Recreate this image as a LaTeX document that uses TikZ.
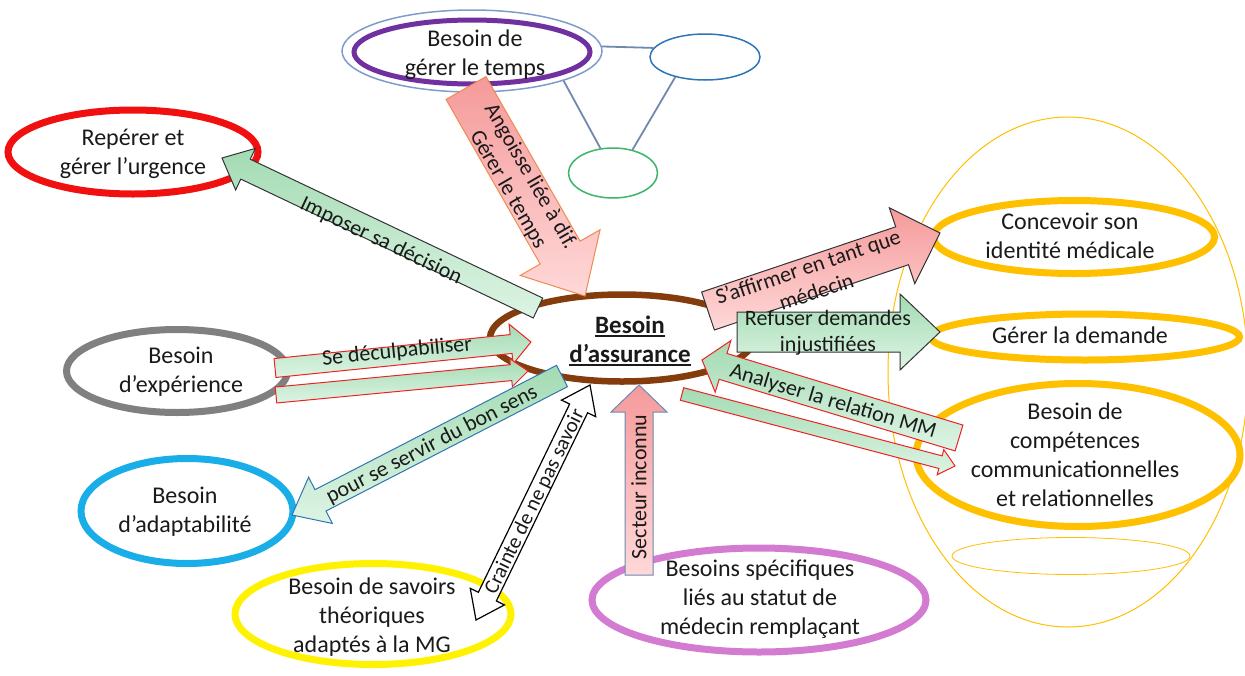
\documentclass[tikz,border=0pt]{standalone}
\usepackage{fontspec}
\setmainfont{Carlito}
\usetikzlibrary{calc,shapes.geometric}

\definecolor{brownring}{HTML}{843C0C}
\definecolor{purplering}{HTML}{7030A0}
\definecolor{steelring}{HTML}{7F9CCB}
\definecolor{bluering}{HTML}{2E75B6}
\definecolor{greenring}{HTML}{3DB56B}
\definecolor{linkgray}{HTML}{7189AE}
\definecolor{redring}{HTML}{F01010}
\definecolor{grayring}{HTML}{808080}
\definecolor{cyanring}{HTML}{1AAEE8}
\definecolor{yellowring}{HTML}{FFF200}
\definecolor{orchidring}{HTML}{D27BD0}
\definecolor{amberring}{HTML}{FFC000}
\definecolor{greentop}{HTML}{A3DBB3}
\definecolor{greenbot}{HTML}{DDF4E4}
\definecolor{pinktop}{HTML}{F59A9A}
\definecolor{pinkbot}{HTML}{FFD8D8}
\definecolor{orangeedge}{HTML}{F08A50}
\definecolor{darkedge}{HTML}{333333}
\definecolor{blueedge}{HTML}{2E75B6}
\definecolor{rededge}{HTML}{EE2222}
\definecolor{slateedge}{HTML}{6A88B8}
\definecolor{txt}{HTML}{1A1A1A}

\newcommand\bigtxt{\fontsize{24}{29}\selectfont}
\newcommand\arrtxt{\fontsize{22}{26}\selectfont}
% thick underline for the central title
\newcommand\assurul[1]{\setbox0\hbox{#1}\rlap{\rule[-3.5pt]{\wd0}{1.6pt}}\box0}

% block arrow: options, tail, tip, half shaft, half head, head length
\newcommand\blockarrow[6]{%
  \draw[#1] let \p1=(#2), \p2=(#3),
    \n1={atan2(\y2-\y1,\x2-\x1)},
    \n2={veclen(\x2-\x1,\y2-\y1)-#6} in
    ($(#2)+({\n1+90}:#4)$) --
    ($(#2)+(\n1:\n2)+({\n1+90}:#4)$) --
    ($(#2)+(\n1:\n2)+({\n1+90}:#5)$) --
    (#3) --
    ($(#2)+(\n1:\n2)+({\n1-90}:#5)$) --
    ($(#2)+(\n1:\n2)+({\n1-90}:#4)$) --
    ($(#2)+({\n1-90}:#4)$) -- cycle;}

% block arrow with a head at both ends
\newcommand\dblarrow[6]{%
  \draw[#1] let \p1=(#2), \p2=(#3),
    \n1={atan2(\y2-\y1,\x2-\x1)},
    \n2={veclen(\x2-\x1,\y2-\y1)-#6} in
    (#2) --
    ($(#2)+(\n1:#6)+({\n1+90}:#5)$) --
    ($(#2)+(\n1:#6)+({\n1+90}:#4)$) --
    ($(#2)+(\n1:\n2)+({\n1+90}:#4)$) --
    ($(#2)+(\n1:\n2)+({\n1+90}:#5)$) --
    (#3) --
    ($(#2)+(\n1:\n2)+({\n1-90}:#5)$) --
    ($(#2)+(\n1:\n2)+({\n1-90}:#4)$) --
    ($(#2)+(\n1:#6)+({\n1-90}:#4)$) --
    ($(#2)+(\n1:#6)+({\n1-90}:#5)$) -- cycle;}

\tikzset{
  ring/.style={ellipse, inner sep=0pt, line width=7pt},
  thinring/.style={ellipse, inner sep=0pt, line width=1.5pt},
  ringtext/.style={inner sep=0pt, align=center, font=\bigtxt, text=txt},
  arrlabel/.style={inner sep=0pt, align=center, font=\arrtxt, text=txt},
  link/.style={draw=linkgray, line width=1.8pt},
  greenarrow/.style={top color=greentop, bottom color=greenbot, line width=1pt},
  pinkarrow/.style={top color=pinktop, bottom color=pinkbot, line width=1pt}
}

\begin{document}
\begin{tikzpicture}[x=1pt,y=1pt]
\useasboundingbox (0,0) rectangle (1245,-675);
\fill[white] (0,0) rectangle (1245,-675);

% shell around the right-hand needs
\node[thinring, draw=amberring, line width=1pt, minimum width=360pt, minimum height=510pt] (shell) at (1068,-372) {};
\node[thinring, draw=amberring, line width=0.8pt, minimum width=238pt, minimum height=37pt] (shellbase) at (1071,-556) {};

% time cluster at the top
\node[thinring, draw=steelring, minimum width=260pt, minimum height=82pt] (tempsouter) at (472,-51) {};
\node[ellipse, draw=purplering, line width=5pt, inner sep=0pt, minimum width=236pt, minimum height=64pt] (tempsring) at (472,-52) {};
\node[thinring, draw=bluering, minimum width=110pt, minimum height=46pt] (blankone) at (705,-57) {};
\node[thinring, draw=greenring, minimum width=89pt, minimum height=50pt] (blanktwo) at (613,-173) {};
\draw[link] (tempsouter.2) -- (blankone.170);
\draw[link] (tempsouter.-18) -- (blanktwo.117);
\draw[link] (blankone.-146) -- (blanktwo.50);

% need rings
\node[ring, draw=redring, minimum width=250pt, minimum height=84pt] (urgence) at (133,-152) {};
\node[ring, draw=grayring, minimum width=221pt, minimum height=83pt] (experience) at (177,-371) {};
\node[ring, draw=cyanring, minimum width=212pt, minimum height=105pt] (adapt) at (187,-511) {};
\node[ring, draw=yellowring, minimum width=276pt, minimum height=101pt] (savoirs) at (373,-614) {};
\node[ring, draw=orchidring, minimum width=334pt, minimum height=104pt] (remplacant) at (759,-600) {};
\node[ring, draw=amberring, minimum width=281pt, minimum height=73pt] (identite) at (1074,-237) {};
\node[ring, draw=amberring, minimum width=309pt, minimum height=46pt] (demande) at (1085,-337) {};
\node[ring, draw=amberring, minimum width=324pt, minimum height=143pt] (relation) at (1078,-455) {};
\node[ring, draw=brownring, line width=6.5pt, minimum width=264pt, minimum height=87pt] (assurance) at (622,-338) {};

% arrow end points
\coordinate (angT) at (466,-88);   \coordinate (angH) at (585,-296);
\coordinate (impT) at (538,-308);  \coordinate (impH) at (222,-158);
\coordinate (decTa) at (275,-368); \coordinate (decHa) at (531,-342);
\coordinate (decTb) at (276,-395); \coordinate (decHb) at (528,-371);
\coordinate (bonT) at (562,-376);  \coordinate (bonH) at (292,-515);
\coordinate (craA) at (476,-620);  \coordinate (craB) at (590,-385);
\coordinate (secT) at (639,-575);  \coordinate (secH) at (639,-385);
\coordinate (anaTa) at (959,-438); \coordinate (anaHa) at (702,-360);
\coordinate (anaTb) at (682,-394); \coordinate (anaHb) at (955,-466);
\coordinate (affT) at (708,-311);  \coordinate (affH) at (940,-233);
\coordinate (refT) at (737,-332);  \coordinate (refH) at (940,-332);

% arrows
\blockarrow{pinkarrow, draw=orangeedge}{angT}{angH}{23pt}{46pt}{50pt}
\blockarrow{greenarrow, draw=darkedge}{impT}{impH}{11pt}{23pt}{26pt}
\blockarrow{greenarrow, draw=rededge}{decTa}{decHa}{9.5pt}{20pt}{20pt}
\blockarrow{greenarrow, draw=rededge}{decTb}{decHb}{8pt}{14pt}{17pt}
\blockarrow{greenarrow, draw=blueedge}{bonT}{bonH}{12pt}{26pt}{32pt}
\dblarrow{fill=white, draw=black, line width=1.2pt}{craA}{craB}{10pt}{19pt}{26pt}
\blockarrow{pinkarrow, draw=slateedge}{secT}{secH}{14pt}{28pt}{27pt}
\blockarrow{greenarrow, draw=rededge}{anaTa}{anaHa}{13.5pt}{27pt}{22pt}
\blockarrow{greenarrow, draw=rededge}{anaTb}{anaHb}{6.5pt}{13pt}{15pt}
\blockarrow{pinkarrow, draw=darkedge}{affT}{affH}{20pt}{40pt}{40pt}
\blockarrow{greenarrow, draw=darkedge}{refT}{refH}{20pt}{38pt}{40pt}

% arrow labels
\node[arrlabel, rotate=-60] (angL) at (519,-183) {Angoisse liée à dif.\\Gérer le temps};
\node[arrlabel, rotate=-25.4] (impL) at (381,-241) {Imposer sa décision};
\node[arrlabel, rotate=5.8] (decL) at (397,-352) {Se déculpabiliser};
\node[arrlabel, rotate=27.2] (bonL) at (432,-445) {pour se servir du bon sens};
\node[arrlabel, rotate=64, font=\fontsize{21}{25}\selectfont] (craL) at (535,-502) {Crainte de ne pas savoir};
\node[arrlabel, rotate=90] (secL) at (639,-487) {Secteur inconnu};
\node[arrlabel, rotate=-16.7] (anaL) at (833,-402) {Analyser la relation MM};
\node[arrlabel, rotate=18.6] (affL) at (812,-279) {S’affirmer en tant que\\médecin};
\node[arrlabel] (refL) at (828,-333) {Refuser demandes\\injustifiées};

% ring texts
\node[ringtext] (tempsT) at (475,-55) {Besoin de\\gérer le temps};
\node[ringtext] (urgenceT) at (133,-154) {Repérer et\\gérer l’urgence};
\node[ringtext] (experienceT) at (181,-372) {Besoin\\d’expérience};
\node[ringtext] (adaptT) at (185,-512) {Besoin\\d’adaptabilité};
\node[ringtext] (savoirsT) at (372,-617) {Besoin de savoirs\\théoriques\\adaptés à la MG};
\node[ringtext] (remplacantT) at (760,-599) {Besoins spécifiques\\liés au statut de\\médecin remplaçant};
\node[ringtext] (identiteT) at (1070,-236) {Concevoir son\\identité médicale};
\node[ringtext] (demandeT) at (1080,-335) {Gérer la demande};
\node[ringtext] (relationT) at (1075,-455) {Besoin de\\compétences\\communicationnelles\\et relationnelles};
\node[ringtext, font=\fontsize{25}{29}\selectfont\bfseries] (assuranceT) at (630,-341) {\assurul{Besoin}\\\assurul{d’assurance}};
\end{tikzpicture}
\end{document}
